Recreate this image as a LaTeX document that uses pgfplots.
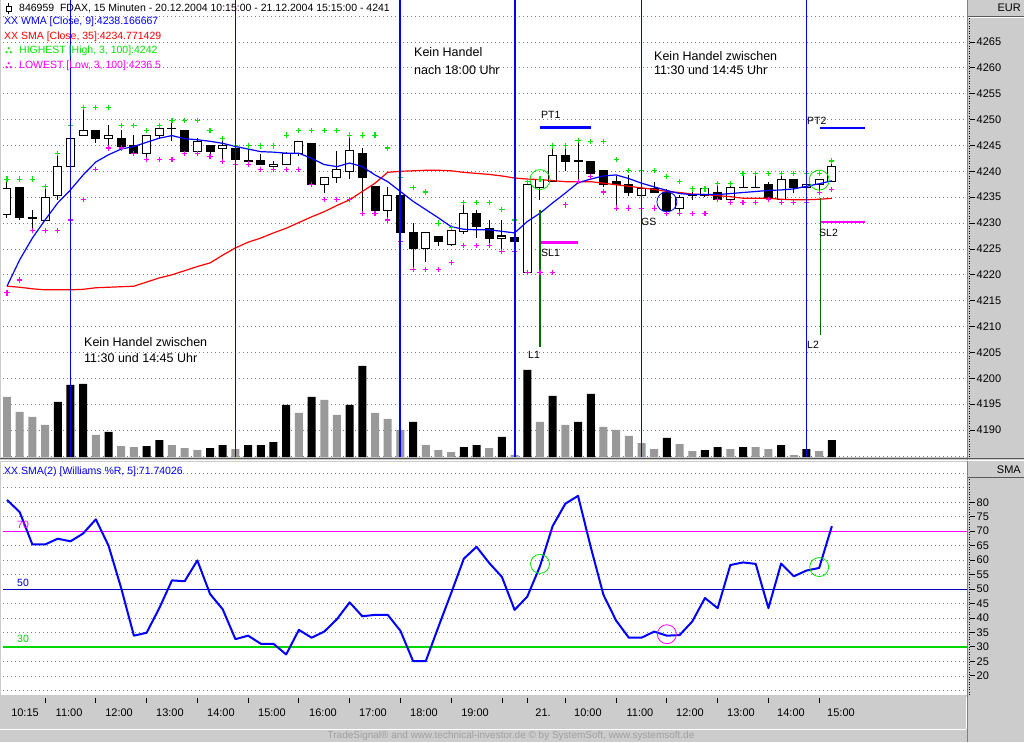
\documentclass[border=0pt]{standalone}
\usepackage{pgfplots}
\pgfplotsset{compat=1.18}
\usepackage{pgfplotstable}
\usepackage{fontspec}
\setmainfont{Liberation Sans}
\newfontfamily\dejavu{DejaVu Sans}
\definecolor{panelgray}{RGB}{204,204,204}
\definecolor{volgray}{RGB}{153,153,153}
\definecolor{gridgray}{RGB}{120,120,120}
\definecolor{hgreen}{RGB}{0,230,0}
\definecolor{lmag}{RGB}{255,0,255}
\definecolor{lgreen}{RGB}{0,215,0}
\definecolor{dgreen}{RGB}{0,110,0}
\definecolor{navyf}{RGB}{0,0,190}
\definecolor{footgray}{RGB}{160,160,160}
\newcommand{\fa}{\fontsize{10.5}{12}\selectfont}
\newcommand{\fb}{\fontsize{12.5}{14}\selectfont}
\newcommand{\ft}{\fontsize{11}{12}\selectfont}
\pgfplotsset{
  pricebox/.style={at={(3pt,285pt)}, anchor=south west, scale only axis,
    width=964pt, height=457pt, xmin=-0.315, xmax=75.65,
    ymin=4184.8, ymax=4273.1, hide axis, clip=true},
  gridl/.style={gridgray, line width=0.7pt, dash pattern=on 0.8pt off 3.2pt, forget plot},
  erronly/.style={draw=none, mark=none, forget plot, mark options={draw=none, fill=none}},
}

\pgfplotstableread{
i o h l c
0 4231.6 4238.4 4231.0 4236.6
1 4236.9 4237.0 4230.6 4231.0
2 4231.0 4232.6 4228.5 4231.0
3 4230.6 4236.9 4230.6 4235.0
4 4235.4 4243.5 4234.4 4241.0
5 4241.0 4246.4 4241.0 4246.4
6 4247.0 4252.4 4247.0 4247.9
7 4247.9 4247.9 4245.4 4246.3
8 4246.4 4248.9 4244.5 4247.0
9 4246.4 4247.9 4244.5 4244.8
10 4244.9 4247.0 4243.5 4243.5
11 4243.5 4247.0 4242.3 4247.0
12 4247.0 4248.3 4246.2 4248.3
13 4248.3 4249.8 4245.8 4248.3
14 4247.9 4247.9 4243.8 4243.8
15 4243.8 4246.4 4243.5 4245.8
16 4244.9 4244.9 4243.2 4243.8
17 4244.5 4246.4 4241.9 4244.9
18 4244.5 4244.5 4242.3 4242.3
19 4242.0 4244.9 4241.4 4242.0
20 4242.0 4243.3 4241.4 4241.4
21 4241.0 4242.0 4241.0 4241.4
22 4241.4 4243.8 4241.4 4243.5
23 4243.5 4245.8 4243.0 4245.8
24 4245.4 4245.4 4237.5 4237.5
25 4237.5 4238.8 4235.9 4238.8
26 4238.8 4244.0 4237.8 4240.4
27 4240.0 4247.0 4238.5 4244.0
28 4243.5 4244.5 4231.9 4238.8
29 4237.1 4237.1 4232.4 4232.4
30 4232.4 4236.9 4230.6 4235.4
31 4235.4 4235.4 4228.1 4228.1
32 4228.1 4230.0 4221.1 4225.0
33 4225.0 4228.1 4222.4 4228.1
34 4227.5 4227.5 4225.5 4226.5
35 4225.9 4229.3 4225.5 4228.5
36 4228.4 4234.0 4227.9 4231.9
37 4231.9 4232.6 4227.1 4229.3
38 4229.0 4230.6 4225.6 4227.1
39 4227.1 4230.6 4224.7 4227.5
40 4227.2 4227.2 4226.5 4226.5
41 4220.5 4237.5 4220.5 4237.5
42 4236.9 4238.4 4234.5 4238.4
43 4238.0 4244.9 4238.0 4243.0
44 4243.0 4244.8 4240.0 4241.9
45 4242.0 4246.0 4238.0 4242.0
46 4242.0 4242.0 4239.5 4239.5
47 4240.1 4240.1 4237.0 4237.4
48 4238.0 4239.0 4232.9 4237.5
49 4237.5 4239.3 4235.3 4235.9
50 4235.4 4236.6 4235.4 4236.6
51 4236.6 4238.0 4236.0 4236.0
52 4235.9 4236.5 4232.4 4232.4
53 4232.9 4235.5 4231.9 4235.0
54 4235.5 4236.4 4234.5 4235.5
55 4235.4 4236.6 4235.0 4236.6
56 4236.0 4237.6 4234.5 4234.5
57 4234.5 4237.6 4234.0 4236.9
58 4236.9 4239.5 4236.9 4236.9
59 4236.9 4239.5 4236.9 4236.9
60 4237.5 4238.0 4234.5 4235.0
61 4234.5 4239.5 4234.5 4238.5
62 4238.5 4238.5 4235.9 4236.9
63 4236.9 4237.5 4236.9 4237.5
64 4237.5 4238.5 4236.0 4238.5
65 4238.0 4242.0 4238.0 4240.9
}\tcandle

\pgfplotstableread{
i wma sma hi lo
0 4217.8 4217.8 4238.5 4216.5
1 4222.9 4217.6 4238.5 4219.0
2 4227.1 4217.3 4238.5 4228.5
3 4230.6 4217.1 4237.0 4228.5
4 4233.9 4217.1 4243.5 4228.5
5 4236.4 4217.1 4248.9 4230.6
6 4239.3 4217.2 4252.4 4234.5
7 4241.8 4217.5 4252.4 4240.4
8 4243.2 4217.6 4252.4 4244.5
9 4244.3 4217.7 4248.9 4244.5
10 4244.8 4217.8 4248.9 4243.5
11 4245.6 4218.6 4247.9 4242.3
12 4246.4 4219.4 4248.9 4242.3
13 4246.9 4220.0 4249.8 4242.3
14 4246.3 4220.8 4249.8 4243.5
15 4246.1 4221.6 4249.8 4243.5
16 4245.8 4222.3 4247.9 4242.9
17 4245.4 4223.8 4246.4 4241.9
18 4244.8 4225.2 4244.9 4241.4
19 4244.3 4226.3 4244.9 4241.4
20 4243.8 4227.1 4244.9 4240.4
21 4243.7 4228.1 4244.9 4240.4
22 4243.5 4229.0 4247.0 4240.4
23 4243.5 4230.1 4247.9 4240.4
24 4242.5 4231.2 4247.9 4237.5
25 4241.3 4232.2 4247.9 4234.5
26 4240.9 4233.4 4247.9 4234.5
27 4241.6 4234.5 4247.0 4234.5
28 4240.9 4236.1 4247.0 4231.9
29 4239.3 4237.7 4247.0 4231.9
30 4238.0 4239.8 4244.5 4230.6
31 4236.1 4240.0 4238.8 4226.5
32 4234.2 4240.1 4236.9 4221.1
33 4232.6 4240.2 4236.0 4221.1
34 4231.0 4240.2 4230.0 4221.1
35 4229.3 4240.1 4229.1 4222.4
36 4228.8 4239.8 4234.0 4225.6
37 4228.7 4239.6 4234.0 4225.6
38 4228.7 4239.4 4234.0 4225.6
39 4228.4 4239.1 4232.6 4224.5
40 4228.1 4238.7 4230.6 4224.5
41 4230.3 4238.5 4238.0 4220.5
42 4231.9 4238.4 4238.5 4220.5
43 4233.9 4238.2 4244.9 4220.5
44 4235.8 4238.0 4244.9 4233.5
45 4237.8 4238.0 4246.0 4238.0
46 4238.5 4238.0 4245.8 4239.0
47 4239.1 4237.7 4245.8 4236.0
48 4239.3 4237.4 4242.3 4232.9
49 4238.6 4237.1 4240.1 4232.9
50 4237.7 4236.8 4240.1 4232.9
51 4237.0 4236.5 4240.1 4232.9
52 4236.3 4236.1 4239.0 4231.9
53 4235.7 4235.9 4238.0 4231.9
54 4235.5 4235.6 4236.6 4231.9
55 4235.5 4235.5 4236.6 4231.9
56 4235.5 4235.3 4237.6 4234.5
57 4235.7 4235.1 4237.6 4234.0
58 4235.9 4234.8 4239.5 4234.0
59 4236.1 4234.8 4239.5 4234.0
60 4236.3 4234.8 4239.5 4234.5
61 4236.4 4234.6 4239.5 4234.0
62 4236.6 4234.5 4239.5 4234.0
63 4237.1 4234.5 4239.5 4234.0
64 4237.6 4234.6 4239.5 4235.9
65 4238.17 4234.77 4242.0 4236.5
}\tma

\pgfplotstableread{
i v
4 55
5 72
6 73
8 25
11 11
12 17
16 9
17 12
19 12
20 12
21 15
22 52
24 60
27 52
28 91
32 35
36 10
37 12
39 20
41 87
43 61
45 35
46 63
52 19
55 7
56 10
58 10
61 12
63 8
65 17
}\tvolb

\pgfplotstableread{
i v
0 60
1 45
2 40
3 32
7 22
9 11
10 10
13 12
14 9
15 7
18 8
23 44
25 57
26 42
29 44
30 38
31 27
33 12
34 7
35 5
38 9
40 2
42 35
44 32
47 30
48 27
49 21
50 14
51 8
53 13
54 6
57 8
59 10
60 8
62 2
64 6
}\tvolg

\pgfplotstableread{
i w
0 80.8
1 76.6
2 65.4
3 65.4
4 67.4
5 66.5
6 69.2
7 74.1
8 65.0
9 50.3
10 33.9
11 34.9
12 43.4
13 53.0
14 52.7
15 59.9
16 48.3
17 43.0
18 32.7
19 33.9
20 31.1
21 31.1
22 27.4
23 35.9
24 33.2
25 35.3
26 39.6
27 45.4
28 40.6
29 41.1
30 41.1
31 35.6
32 25.1
33 25.1
34 37.0
35 48.6
36 60.5
37 64.6
38 59.0
39 54.2
40 42.8
41 47.4
42 57.9
43 71.8
44 79.5
45 82.2
46 64.5
47 48.0
48 39.1
49 33.2
50 33.2
51 35.3
52 33.9
53 34.1
54 38.8
55 46.9
56 43.4
57 58.3
58 59.2
59 58.7
60 43.4
61 58.8
62 54.4
63 56.4
64 57.3
65 71.74
}\twpr

\begin{document}
\begin{tikzpicture}
\begin{scope}[x=1pt,y=1pt]
\useasboundingbox (0,0) rectangle (1024,742);
\fill[panelgray] (0,0) rectangle (1024,742);
\fill[white] (1,285) rectangle (967,742);
\fill[white] (1,47) rectangle (967,280);
\draw[gray, line width=0.8pt] (967.8,0) -- (967.8,742);
\draw[gray!70!black, line width=0.8pt] (968,726) -- (1024,726);
\draw[white, line width=0.8pt] (968,725) -- (1024,725);
\draw[gray!70!black, line width=0.8pt] (0,283.5) -- (1024,283.5);
\draw[white, line width=0.8pt] (0,281.5) -- (1024,281.5);
\draw[gray!70!black, line width=0.8pt] (968,264.5) -- (1024,264.5);
\draw[white, line width=1pt] (0,13) -- (966,13);
\draw[white, line width=1pt] (966,13) -- (966,45);
\draw[black, line width=0.8pt, dash pattern=on 1pt off 1.5pt] (969.5,285) -- (969.5,724);
\draw[black, line width=0.8pt, dash pattern=on 1pt off 1.5pt] (969.5,47) -- (969.5,263);
\end{scope}

% ===== price panel: grid =====
\begin{axis}[pricebox]
\pgfplotsinvokeforeach{4185,4190,...,4270}{
  \addplot[gridl] coordinates {(-0.315,#1) (75.65,#1)};
}
\end{axis}

% ===== price panel: candles =====
\begin{axis}[pricebox]
\addplot[erronly,
  error bars/.cd, y dir=both, y explicit, error mark=none,
  error bar style={draw=black, solid, line width=1pt}]
  table[x=i, y expr={(\thisrow{h}+\thisrow{l})/2}, y error expr={(\thisrow{h}-\thisrow{l})/2}] {\tcandle};
\addplot[erronly,
  error bars/.cd, y dir=both, y explicit, error mark=none,
  error bar style={draw=black, solid, line width=9pt}]
  table[x=i, y expr={(\thisrow{o}+\thisrow{c})/2}, y error expr={max(abs(\thisrow{c}-\thisrow{o})/2+0.097,0.15)}] {\tcandle};
\addplot[erronly,
  error bars/.cd, y dir=both, y explicit, error mark=none,
  error bar style={draw=white, solid, line width=7pt}]
  table[x=i, y expr={(\thisrow{o}+\thisrow{c})/2}, y error expr={max((\thisrow{c}-\thisrow{o})/2-0.097,0)}] {\tcandle};
\end{axis}

% ===== price panel: indicators and trade marks =====
\begin{axis}[pricebox]
\addplot[red, line width=1.2pt] table[x=i, y=sma] {\tma};
\addplot[blue, line width=1.2pt] table[x=i, y=wma] {\tma};
\addplot[only marks, mark=+, mark size=2.6pt, mark options={draw=hgreen, line width=1.1pt}] table[x=i, y=hi] {\tma};
\addplot[only marks, mark=+, mark size=2.6pt, mark options={draw=lmag, line width=1.1pt}] table[x=i, y=lo] {\tma};
\addplot[draw=blue, line width=2.6pt] coordinates {(42,4248.5) (46,4248.5)};
\addplot[draw=lmag, line width=2.6pt] coordinates {(42,4226.3) (45,4226.3)};
\addplot[draw=dgreen, line width=1.1pt] coordinates {(42,4232.5) (42,4206.0)};
\addplot[draw=blue, line width=2.6pt] coordinates {(64.1,4248.4) (67.6,4248.4)};
\addplot[draw=lmag, line width=2.6pt] coordinates {(64.1,4230.2) (67.6,4230.2)};
\addplot[draw=dgreen, line width=1.1pt] coordinates {(64.1,4234.8) (64.1,4208.4)};
\addplot[only marks, mark=o, mark size=10pt, mark options={draw=hgreen, line width=0.8pt, solid}] coordinates {(42,4238.4) (64,4238.3)};
\addplot[only marks, mark=o, mark size=10pt, mark options={draw=blue, line width=0.8pt, solid}] coordinates {(52,4234.1)};
\end{axis}

% ===== volume + session lines =====
\begin{axis}[
  at={(3pt,285pt)}, anchor=south west, scale only axis,
  width=964pt, height=457pt,
  xmin=-0.315, xmax=75.65, ymin=0, ymax=457,
  hide axis, clip=true,
]
\addplot[ybar, bar width=8pt, bar shift=0pt, fill=black, draw=none] table[x=i, y=v] {\tvolb};
\addplot[ybar, bar width=8pt, bar shift=0pt, fill=volgray, draw=none] table[x=i, y=v] {\tvolg};
\addplot[draw=blue, line width=1.8pt] coordinates {(5,0) (5,457)};
\addplot[draw=blue, line width=1.8pt] coordinates {(18,0) (18,457)};
\addplot[draw=blue, line width=1.8pt] coordinates {(31,0) (31,457)};
\addplot[draw=blue, line width=1.8pt] coordinates {(40,0) (40,457)};
\addplot[draw=blue, line width=1.8pt] coordinates {(50,0) (50,457)};
\addplot[draw=blue, line width=1.8pt] coordinates {(63,0) (63,457)};
\end{axis}

% ===== Williams %R panel =====
\begin{axis}[
  at={(3pt,47pt)}, anchor=south west, scale only axis,
  width=964pt, height=233pt,
  xmin=-0.315, xmax=75.65, ymin=13.4, ymax=93.9,
  hide axis, clip=true,
]
\pgfplotsinvokeforeach{15,20,...,90}{
  \addplot[gridl] coordinates {(-0.315,#1) (75.65,#1)};
}
\addplot[draw=lmag, line width=1.1pt] coordinates {(-0.315,70) (75.65,70)};
\addplot[draw=navyf, line width=1.1pt] coordinates {(-0.315,50) (75.65,50)};
\addplot[draw=lgreen, line width=1.1pt] coordinates {(-0.315,30) (75.65,30)};
\addplot[draw=blue, line width=2pt, line join=round] table[x=i, y=w] {\twpr};
\addplot[only marks, mark=o, mark size=9.5pt, mark options={draw=hgreen, line width=0.8pt, solid}] coordinates {(42,58.7) (64,57.6)};
\addplot[only marks, mark=o, mark size=9.5pt, mark options={draw=lmag, line width=0.8pt, solid}] coordinates {(52,34.4)};
\end{axis}

\begin{scope}[x=1pt,y=1pt]
% ===== axis ticks and labels =====
\foreach \p in {4190,4195,...,4265}{
  \pgfmathsetmacro\yy{700-(4265-\p)*5.173}
  \draw[black, line width=0.8pt] (970,\yy) -- (975,\yy);
  \node[anchor=west, inner sep=0pt] at (976.5,\yy) {\ft\p};
}
\foreach \v in {20,25,...,80}{
  \pgfmathsetmacro\yy{210.8-(70-\v)*2.89}
  \draw[black, line width=0.8pt] (970,\yy) -- (975,\yy);
  \node[anchor=west, inner sep=0pt] at (976.5,\yy) {\ft\v};
}
\foreach \t in {3,7,11,15,19,23,27,31,35,39,41,44,48,52,56,60,64}{
  \pgfmathsetmacro\xx{7+12.69*\t}
  \draw[black, line width=0.8pt] (\xx,44.5) -- (\xx,39);
}
\foreach \t/\lab in {1.42/10:15,4.89/11:00,8.83/12:00,12.84/13:00,16.86/14:00,20.88/15:00,24.9/16:00,28.84/17:00,32.86/18:00,36.88/19:00,42.24/21.,45.78/10:00,49.88/11:00,53.82/12:00,57.84/13:00,61.78/14:00,65.72/15:00}{
  \pgfmathsetmacro\xx{7+12.69*\t}
  \node[anchor=center, inner sep=0pt] at (\xx,29) {\ft\lab};
}

% ===== texts =====
\begin{scope}[every node/.style={inner sep=0pt, anchor=west}]
\draw[black, line width=0.8pt] (6,731) rectangle (11,736);
\draw[black, line width=0.8pt] (8.5,736) -- (8.5,739) (8.5,731) -- (8.5,728);
\node at (19,734) {\fa 846959\ \ FDAX, 15 Minuten - 20.12.2004 10:15:00 - 21.12.2004 15:15:00 - 4241};
\node[text=blue] at (4,720) {\fa XX WMA [Close, 9]:4238.166667};
\node[text=red] at (4,705) {\fa XX SMA [Close, 35]:4234.771429};
\node[text=hgreen] at (5,691) {\fa{\dejavu\bfseries ∴}};
\node[text=hgreen] at (19,691) {\fa HIGHEST [High, 3, 100]:4242};
\node[text=lmag] at (5,676) {\fa{\dejavu\bfseries ∴}};
\node[text=lmag] at (19,676) {\fa LOWEST [Low, 3, 100]:4236.5};
\node at (84,400) {\fb Kein Handel zwischen};
\node at (84,384) {\fb 11:30 und 14:45 Uhr};
\node at (414,690) {\fb Kein Handel};
\node at (414,672) {\fb nach 18:00 Uhr};
\node at (654,686) {\fb Kein Handel zwischen};
\node at (654,672) {\fb 11:30 und 14:45 Uhr};
\node at (541,627) {\fa PT1};
\node at (541,489) {\fa SL1};
\node at (528,387) {\fa L1};
\node at (641,520) {\fa GS};
\node at (807,621) {\fa PT2};
\node at (819,509) {\fa SL2};
\node at (807,397) {\fa L2};
\node[text=blue] at (4,270) {\fa XX SMA(2) [Williams \%R, 5]:71.74026};
\node[text=lmag] at (17,217) {\fa 70};
\node[text=navyf] at (17,159) {\fa 50};
\node[text=lgreen] at (17,103) {\fa 30};
\node[anchor=east] at (1021,734) {\ft EUR};
\node[anchor=east] at (1021,272) {\ft SMA};
\node[anchor=center, text=footgray] at (511,6) {\fontsize{10}{11}\selectfont TradeSignal® and www.technical-investor.de © by SystemSoft, www.systemsoft.de};
\end{scope}
\end{scope}
\end{tikzpicture}
\end{document}
